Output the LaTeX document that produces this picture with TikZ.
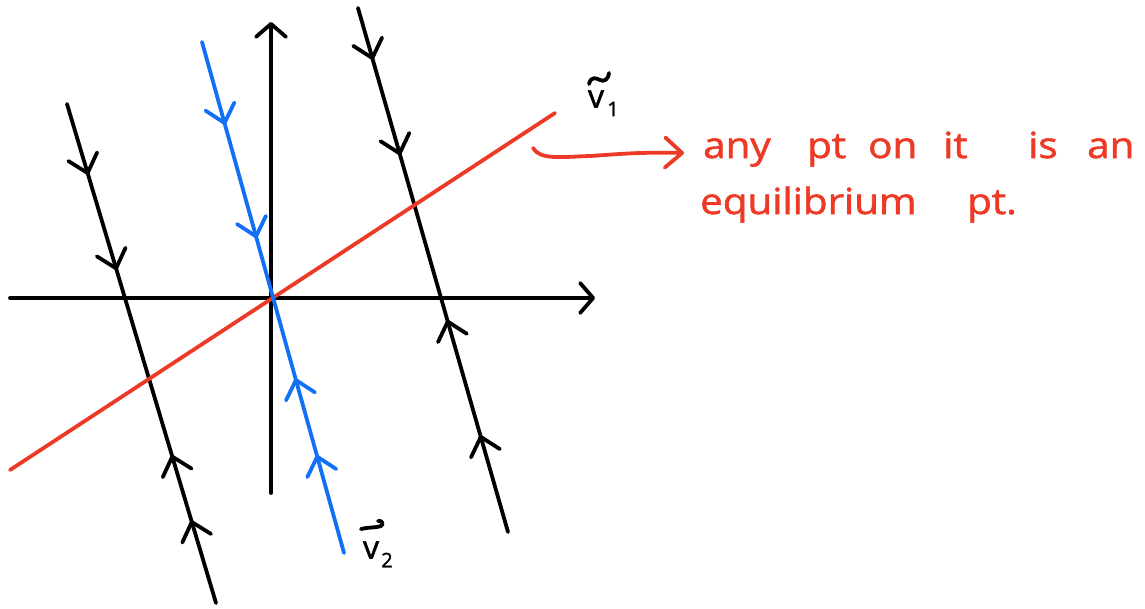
\documentclass[tikz,border=0pt]{standalone}
\usepackage{fontspec}
\setmainfont{Open Sans}
\newfontfamily\hand{Open Sans}[FakeBold=1.5]
\usetikzlibrary{arrows.meta,decorations.markings}
\definecolor{myred}{RGB}{236,58,38}
\definecolor{myblue}{RGB}{18,112,245}
\tikzset{
  ln/.style={line width=3.8pt, line cap=round, line join=round},
  tipd/.tip={Straight Barb[length=17pt,width=30pt,round]},
  axtip/.tip={Straight Barb[length=13pt,width=30pt,round]},
  flow/.style args={#1/#2/#3/#4}{postaction={decorate}, decoration={markings,
     mark=at position #1 with {\arrow{tipd}},
     mark=at position #2 with {\arrow{tipd}},
     mark=at position #3 with {\arrowreversed{tipd}},
     mark=at position #4 with {\arrowreversed{tipd}}}},
  hw/.style={text=myred, font=\hand\fontsize{36}{36}\selectfont, anchor=base west, inner sep=0pt},
  lab/.style={font=\hand\fontsize{32}{32}\selectfont, inner sep=0pt},
  sub/.style={font=\hand\fontsize{20}{20}\selectfont, inner sep=0pt}
}
\begin{document}
\begin{tikzpicture}[x=1pt,y=-1pt]
\useasboundingbox (0,0) rectangle (1145,608);
% coordinates
\coordinate (O) at (271,298);
\coordinate (xl) at (10,298);
\coordinate (xr) at (595,298);
\coordinate (yb) at (271,493);
\coordinate (yt) at (271,22);
\coordinate (r1) at (10,470);
\coordinate (r2) at (555,113);
\coordinate (b1) at (202,42);
\coordinate (b2) at (344,553);
\coordinate (l1) at (67,104);
\coordinate (l2) at (216,603);
\coordinate (k1) at (358,8);
\coordinate (k2) at (508,532);
\coordinate (ws) at (533,148);
\coordinate (we) at (684,153);
% axes
\draw[ln,-axtip] (xl) -- (xr);
\draw[ln,-axtip] (yb) -- (yt);
% trajectories
\draw[ln,flow=0.142/0.333/0.703/0.834] (l1) -- (l2);
\draw[ln,flow=0.099/0.281/0.595/0.815] (k1) -- (k2);
\draw[ln,myred] (r1) -- (r2);
\draw[ln,myblue,flow=0.162/0.384/0.658/0.808] (b1) -- (b2);
% labels
\node[lab] (v1) at (596,99) {v};
\node[sub] (s1) at (613,109) {1};
\draw[ln] (589,84) .. controls (591,76) and (596,78) .. (600,80) .. controls (604,82) and (608,80) .. (609,73);
\node[lab] (v2) at (371,550) {v};
\node[sub] (s2) at (387,560) {2};
\draw[ln] (361,529) .. controls (368,527) and (376,528) .. (381,526) .. controls (384,524) and (382,520) .. (378,521);
% red note arrow
\draw[ln,myred,-tipd] (ws) .. controls (540,160) and (560,157) .. (590,156) .. controls (620,154) and (640,152) .. (we);
\node[hw] (t1) at (703,158) {\scalebox{1.12}[1]{any}};
\node[hw] (t2) at (807,158) {\scalebox{1.12}[1]{pt}};
\node[hw] (t3) at (868,158) {\scalebox{1.12}[1]{on}};
\node[hw] (t4) at (943,158) {\scalebox{1.12}[1]{it}};
\node[hw] (t5) at (1028,158) {\scalebox{1.12}[1]{is}};
\node[hw] (t6) at (1087,158) {\scalebox{1.12}[1]{an}};
\node[hw] (t7) at (700,214) {\scalebox{1.12}[1]{equilibrium}};
\node[hw] (t8) at (967,214) {\scalebox{1.12}[1]{pt.}};
\end{tikzpicture}
\end{document}
